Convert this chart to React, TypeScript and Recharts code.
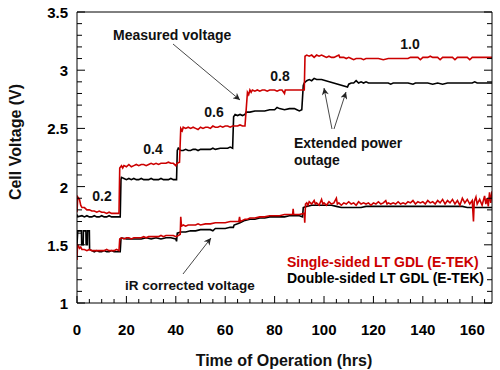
import { Line, LineChart, XAxis, YAxis } from "recharts";

type Pt = [number, number];

// time axis (hrs): a tick every 5, a label every 20
const xTicks = [0, 5, 10, 15, 20, 25, 30, 35, 40, 45, 50, 55, 60, 65, 70, 75, 80, 85, 90, 95, 100, 105, 110, 115, 120, 125, 130, 135, 140, 145, 150, 155, 160, 165];
const xLabels = [0, 20, 40, 60, 80, 100, 120, 140, 160];
// cell voltage axis (V): a tick every 0.1, a label every 0.5
const yTicks = [1, 1.1, 1.2, 1.3, 1.4, 1.5, 1.6, 1.7, 1.8, 1.9, 2, 2.1, 2.2, 2.3, 2.4, 2.5, 2.6, 2.7, 2.8, 2.9, 3, 3.1, 3.2, 3.3, 3.4, 3.5];
const yLabels = [1, 1.5, 2, 2.5, 3, 3.5];

// [hrs, V] single-sided LT GDL, measured
const singleMeasured: Pt[] = [
  [0, 1.78], [0.3, 1.91], [1, 1.89], [1.5, 1.84], [2, 1.82], [3, 1.82], [4, 1.8], [5, 1.8],
  [6, 1.79], [7, 1.79], [8, 1.78], [9, 1.79], [10, 1.78], [11, 1.78], [12, 1.77], [13, 1.78],
  [14, 1.77], [15, 1.77], [16, 1.77], [17, 1.77],
  [17.3, 2.16], [18, 2.18], [18.5, 2.16], [19, 2.18], [20, 2.17], [21, 2.19], [22, 2.17], [23, 2.18],
  [24, 2.19], [25, 2.18], [26, 2.19], [27, 2.19], [28, 2.18], [29, 2.19], [30, 2.2], [31, 2.19],
  [32, 2.2], [33, 2.19], [34, 2.2], [35, 2.2], [36, 2.2], [37, 2.21], [38, 2.2], [39, 2.2],
  [40, 2.18], [40.5, 2.2], [41.5, 2.21],
  [42, 2.5], [42.6, 2.48], [43, 2.51], [44, 2.5], [45, 2.51], [46, 2.5], [47, 2.51], [48, 2.5],
  [49, 2.49], [50, 2.51], [51, 2.5], [52, 2.51], [53, 2.51], [54, 2.5], [55, 2.52], [56, 2.51],
  [57, 2.51], [58, 2.52], [59, 2.51], [60, 2.52], [61, 2.52], [62, 2.51], [63, 2.52], [64, 2.52],
  [65, 2.52], [66, 2.53], [67, 2.52], [68, 2.52],
  [69, 2.81], [69.5, 2.79], [70, 2.83], [70.5, 2.81], [71, 2.83], [72, 2.82], [73, 2.83], [74, 2.82],
  [75, 2.83], [76, 2.83], [77, 2.82], [78, 2.83], [79, 2.83], [80, 2.83], [81, 2.82], [82, 2.83],
  [83, 2.83], [84, 2.8], [84.3, 2.83], [85, 2.83], [86, 2.83], [87, 2.83], [88, 2.83], [89, 2.83],
  [90, 2.83], [91, 2.83], [92, 2.83],
  [92.3, 3.12], [93, 3.13], [94, 3.12], [95, 3.13], [96, 3.11], [97, 3.13], [98, 3.12], [99, 3.13],
  [100, 3.12], [101, 3.11], [102, 3.12], [103, 3.11], [104, 3.11], [105, 3.12], [106, 3.13], [106.4, 3.11],
  [108, 3.11], [109, 3.1], [110, 3.11], [111, 3.1], [112, 3.09], [113, 3.1], [114, 3.1], [115, 3.1],
  [116, 3.09], [117, 3.1], [118, 3.1], [119, 3.1], [120, 3.1], [122, 3.1], [124, 3.09], [126, 3.1],
  [128, 3.1], [130, 3.1], [132, 3.1], [134, 3.1], [135, 3.11], [136, 3.11], [138, 3.11], [139, 3.09],
  [140, 3.11], [142, 3.11], [143, 3.12], [144, 3.11], [146, 3.11], [147, 3.09], [148, 3.11], [150, 3.11],
  [152, 3.11], [153, 3.09], [154, 3.11], [156, 3.11], [158, 3.11], [159, 3.09], [160, 3.11], [162, 3.11],
  [164, 3.11], [166, 3.11], [168, 3.11],
];

// [hrs, V] double-sided LT GDL, measured
const doubleMeasured: Pt[] = [
  [0, 1.76], [0.3, 1.74], [2, 1.75], [3, 1.74], [4, 1.75], [5, 1.74], [6, 1.74], [7, 1.75],
  [8, 1.74], [9, 1.74], [10, 1.75], [11, 1.74], [12, 1.74], [13, 1.75], [14, 1.74], [15, 1.74],
  [16, 1.74], [17.5, 1.74],
  [17.8, 2.06], [18, 2.08], [19, 2.07], [20, 2.06], [21, 2.07], [22, 2.06], [23, 2.07], [24, 2.06],
  [25, 2.06], [26, 2.07], [27, 2.06], [28, 2.06], [29, 2.06], [30, 2.07], [31, 2.06], [32, 2.06],
  [33, 2.06], [34, 2.07], [35, 2.06], [36, 2.06], [37, 2.06], [38, 2.07], [39, 2.06], [40.3, 2.06],
  [40.6, 2.31], [41, 2.33], [42, 2.31], [43, 2.31], [44, 2.32], [45, 2.31], [46, 2.31], [47, 2.32],
  [48, 2.32], [49, 2.31], [50, 2.32], [52, 2.32], [54, 2.32], [55, 2.33], [56, 2.32], [58, 2.33],
  [60, 2.33], [61, 2.33], [62, 2.34], [63, 2.33],
  [63.4, 2.6], [64, 2.62], [65, 2.61], [66, 2.62], [67, 2.61], [68, 2.62], [68.5, 2.64], [70, 2.64],
  [72, 2.65], [74, 2.65], [76, 2.65], [78, 2.66], [80, 2.66], [81, 2.68], [82, 2.67], [84, 2.66],
  [86, 2.67], [88, 2.67], [89, 2.66], [90, 2.65], [91, 2.66],
  [91.6, 2.87], [92, 2.89], [93, 2.91], [94, 2.92], [95, 2.91], [96, 2.93], [97, 2.92], [98, 2.92],
  [99, 2.92],
  [109.5, 2.855], [110, 2.88], [111, 2.89], [112, 2.89], [113, 2.91], [114, 2.89], [115, 2.9], [116, 2.89],
  [117, 2.9], [118, 2.89], [120, 2.89], [122, 2.89], [124, 2.89], [126, 2.89], [127, 2.88], [128, 2.89],
  [130, 2.89], [132, 2.89], [134, 2.89], [136, 2.88], [137, 2.89], [138, 2.89], [140, 2.89], [142, 2.89],
  [144, 2.88], [146, 2.89], [148, 2.88], [150, 2.89], [152, 2.89], [154, 2.89], [156, 2.89], [158, 2.89],
  [160, 2.89], [161, 2.9], [162, 2.89], [164, 2.89], [166, 2.89], [168, 2.89],
];

// [hrs, V] single-sided LT GDL, iR corrected
const singleIR: Pt[] = [
  [0, 1.37], [0.2, 1.5], [0.6, 1.49], [1, 1.47], [1.5, 1.48], [2, 1.46], [3, 1.46], [4, 1.45],
  [5, 1.46], [6, 1.45], [7, 1.45], [8, 1.45], [9, 1.45], [10, 1.45], [11, 1.45], [12, 1.46],
  [13, 1.45], [14, 1.45], [15, 1.45], [16, 1.46], [17, 1.45],
  [17.3, 1.55], [18, 1.56], [19, 1.55], [20, 1.56], [21, 1.56], [22, 1.55], [23, 1.56], [24, 1.56],
  [25, 1.56], [26, 1.56], [27, 1.57], [28, 1.56], [29, 1.57], [30, 1.57], [31, 1.57], [32, 1.57],
  [33, 1.57], [34, 1.58], [35, 1.57], [36, 1.58], [37, 1.58], [38, 1.58], [39, 1.58], [40, 1.57],
  [41, 1.58], [41.8, 1.59],
  [42, 1.74], [42.3, 1.66], [43, 1.67], [44, 1.66], [45, 1.67], [46, 1.67], [47, 1.67], [48, 1.67],
  [49, 1.68], [50, 1.67], [52, 1.68], [54, 1.68], [56, 1.69], [58, 1.69], [60, 1.69], [62, 1.7],
  [64, 1.7], [65.5, 1.7], [65.8, 1.74], [66.1, 1.7], [67, 1.71], [68, 1.72], [69, 1.72], [70, 1.73],
  [72, 1.73], [74, 1.74], [76, 1.74], [78, 1.75], [80, 1.75], [82, 1.75], [84, 1.76], [86, 1.76],
  [87.3, 1.76], [87.5, 1.81], [87.7, 1.76], [90, 1.76], [92, 1.77], [92.2, 1.69], [92.5, 1.85],
  [93, 1.86], [93.5, 1.84], [94, 1.87], [95, 1.85], [96, 1.88], [96.5, 1.85], [97, 1.86], [98, 1.84],
  [99, 1.89], [99.5, 1.85], [100, 1.86], [101, 1.84], [102, 1.87], [103, 1.85], [104, 1.86], [105, 1.9],
  [105.4, 1.85], [106, 1.86], [107, 1.84], [108, 1.86], [109, 1.85], [110, 1.87], [111, 1.85], [112, 1.86],
  [113, 1.84], [114, 1.87], [115, 1.85], [116, 1.86], [117, 1.85], [118, 1.86], [119, 1.84], [120, 1.86],
  [121, 1.85], [122, 1.87], [123, 1.85], [124, 1.86], [125, 1.88], [125.5, 1.85], [126, 1.86], [127, 1.85],
  [128, 1.86], [129, 1.85], [130, 1.87], [131, 1.85], [132, 1.86], [133, 1.85], [134, 1.87], [135, 1.86],
  [136, 1.88], [137, 1.85], [138, 1.87], [139, 1.86], [140, 1.87], [141, 1.85], [142, 1.88], [143, 1.86],
  [144, 1.87], [145, 1.85], [146, 1.88], [147, 1.86], [148, 1.89], [149, 1.85], [150, 1.88], [151, 1.86],
  [152, 1.89], [153, 1.85], [154, 1.88], [155, 1.84], [156, 1.9], [157, 1.86], [158, 1.89], [159, 1.85],
  [160, 1.88], [160.5, 1.7], [160.8, 1.87], [161.5, 1.91], [162, 1.85], [163, 1.89], [164, 1.84], [165, 1.92],
  [165.5, 1.85], [166, 1.9], [166.5, 1.83], [167, 1.95], [167.5, 1.86], [168, 1.96],
];

// [hrs, V] double-sided LT GDL, iR corrected
const doubleIR: Pt[] = [
  [0, 1.5], [0.3, 1.62], [1.8, 1.62], [1.9, 1.5], [2.5, 1.5], [2.6, 1.62], [3.6, 1.62], [3.7, 1.5],
  [4.2, 1.5], [4.3, 1.62], [5, 1.62], [5.1, 1.46], [6, 1.45], [7, 1.44], [8, 1.45], [9, 1.44],
  [10, 1.44], [11, 1.45], [12, 1.44], [13, 1.44], [14, 1.45], [15, 1.44], [16, 1.44], [17.5, 1.44],
  [17.8, 1.55], [18, 1.56], [20, 1.55], [22, 1.55], [24, 1.55], [26, 1.55], [28, 1.56], [30, 1.55],
  [32, 1.56], [34, 1.55], [36, 1.56], [38, 1.56], [40, 1.55], [40.3, 1.53],
  [40.6, 1.6], [42, 1.61], [44, 1.61], [46, 1.62], [48, 1.62], [50, 1.63], [52, 1.63], [54, 1.63],
  [55, 1.62], [56, 1.64], [58, 1.64], [60, 1.64], [62, 1.65], [63.3, 1.65], [63.6, 1.67], [65, 1.68],
  [66, 1.69], [68, 1.71], [70, 1.72], [72, 1.72], [74, 1.73], [76, 1.73], [78, 1.74], [80, 1.74],
  [82, 1.74], [84, 1.74], [86, 1.75], [88, 1.75], [90, 1.75], [91.3, 1.74],
  [91.6, 1.82], [93, 1.83], [95, 1.84], [97, 1.84], [99, 1.84], [101, 1.84], [103, 1.84], [105, 1.83],
  [107, 1.82], [109, 1.82], [111, 1.82], [113, 1.82], [115, 1.82], [117, 1.83], [120, 1.83], [123, 1.83],
  [126, 1.83], [129, 1.83], [132, 1.83], [135, 1.83], [138, 1.83], [141, 1.83], [144, 1.83], [147, 1.83],
  [150, 1.83], [153, 1.83], [156, 1.83], [158, 1.82], [160, 1.82], [162, 1.82], [164, 1.82], [166, 1.82],
  [168, 1.82],
];

const RED = "#cc0000";
const FONT = "'Liberation Sans', Arial, sans-serif";

const toRows = (pts: Pt[]) => pts.map(([t, v]) => ({ t, v }));

const isYMajor = (v: number) => yLabels.some((l) => Math.abs(l - v) < 1e-6);

function BottomTick({ x, y, payload }: any) {
  const major = xLabels.includes(payload.value);
  return (
    <g>
      <line x1={x} y1={y} x2={x} y2={y - (major ? 7 : 4)} stroke="#000" />
      {major && (
        <text x={x} y={y + 32} textAnchor="middle" fontSize={15} fontWeight="bold" fontFamily={FONT} fill="#000">
          {payload.value}
        </text>
      )}
    </g>
  );
}

function TopTick({ x, y, payload }: any) {
  const major = xLabels.includes(payload.value);
  return <line x1={x} y1={y} x2={x} y2={y + (major ? 7 : 4)} stroke="#000" />;
}

function LeftTick({ x, y, payload }: any) {
  const major = isYMajor(payload.value);
  return (
    <g>
      <line x1={x} y1={y} x2={x + (major ? 8 : 5)} y2={y} stroke="#000" />
      {major && (
        <text x={x - 9} y={y + 6} textAnchor="end" fontSize={15} fontWeight="bold" fontFamily={FONT} fill="#000">
          {payload.value}
        </text>
      )}
    </g>
  );
}

function RightTick({ x, y, payload }: any) {
  const major = isYMajor(payload.value);
  return <line x1={x} y1={y} x2={x - (major ? 8 : 5)} y2={y} stroke="#000" />;
}

function Annotations() {
  const txt = { fontFamily: FONT, fontWeight: "bold" as const, fill: "#111" };
  return (
    <svg width={500} height={370} style={{ position: "absolute", left: 0, top: 0, pointerEvents: "none" }}>
      <defs>
        <marker id="head" viewBox="0 0 10 10" refX="10" refY="5" markerWidth="9" markerHeight="7" orient="auto" markerUnits="userSpaceOnUse">
          <path d="M0,0 L10,5 L0,10 L3,5 z" fill="#222" />
        </marker>
      </defs>
      <text x={15} y={142} transform="rotate(-90 15 142)" textAnchor="middle" dominantBaseline="central" fontSize={16} {...txt}>
        Cell Voltage (V)
      </text>
      <text x={284} y={366} textAnchor="middle" fontSize={16} {...txt}>
        Time of Operation (hrs)
      </text>

      <text x={113} y={40} fontSize={14} {...txt}>Measured voltage</text>
      <line x1={173} y1={44} x2={240} y2={100} stroke="#333" strokeWidth={0.9} markerEnd="url(#head)" />

      <text x={102} y={201} textAnchor="middle" fontSize={14} {...txt}>0.2</text>
      <text x={153} y={154} textAnchor="middle" fontSize={14} {...txt}>0.4</text>
      <text x={214} y={117} textAnchor="middle" fontSize={14} {...txt}>0.6</text>
      <text x={280} y={81} textAnchor="middle" fontSize={14} {...txt}>0.8</text>
      <text x={410} y={49} textAnchor="middle" fontSize={14} {...txt}>1.0</text>

      <line x1={332} y1={129} x2={324} y2={88} stroke="#333" strokeWidth={0.9} markerEnd="url(#head)" />
      <line x1={334} y1={129} x2={346} y2={92} stroke="#333" strokeWidth={0.9} markerEnd="url(#head)" />
      <text x={294} y={148} fontSize={14} {...txt}>Extended power</text>
      <text x={294} y={165} fontSize={14} {...txt}>outage</text>

      <text x={125} y={290} fontSize={13.5} {...txt}>iR corrected voltage</text>
      <line x1={183} y1={274} x2={211} y2={238} stroke="#333" strokeWidth={0.9} markerEnd="url(#head)" />

      <text x={287} y={267} fontSize={14} fontFamily={FONT} fontWeight="bold" fill={RED}>Single-sided LT GDL (E-TEK)</text>
      <text x={287} y={283} fontSize={14} fontFamily={FONT} fontWeight="bold" fill="#000">Double-sided LT GDL (E-TEK)</text>
    </svg>
  );
}

export default function App() {
  return (
    <div style={{ position: "absolute", left: 0, top: 0, width: 500, height: 370, background: "#fff" }}>
      <LineChart width={500} height={370} margin={{ top: 0, right: 0, bottom: 0, left: 7 }}>
        <XAxis
          dataKey="t"
          type="number"
          domain={[0, 168]}
          ticks={xTicks}
          interval={0}
          tickSize={0}
          tickMargin={0}
          tickLine={false}
          tick={(p: any) => <BottomTick {...p} />}
          height={67}
          axisLine={{ stroke: "#000" }}
          allowDataOverflow
        />
        <XAxis
          xAxisId="top"
          orientation="top"
          type="number"
          domain={[0, 168]}
          ticks={xTicks}
          interval={0}
          tickSize={0}
          tickMargin={0}
          tickLine={false}
          tick={(p: any) => <TopTick {...p} />}
          height={12}
          axisLine={{ stroke: "#000" }}
          allowDataOverflow
        />
        <YAxis
          type="number"
          domain={[1, 3.5]}
          ticks={yTicks}
          interval={0}
          tickSize={0}
          tickMargin={0}
          tickLine={false}
          tick={(p: any) => <LeftTick {...p} />}
          width={70}
          axisLine={{ stroke: "#000" }}
          allowDataOverflow
        />
        <YAxis
          yAxisId="right"
          orientation="right"
          type="number"
          domain={[1, 3.5]}
          ticks={yTicks}
          interval={0}
          tickSize={0}
          tickMargin={0}
          tickLine={false}
          tick={(p: any) => <RightTick {...p} />}
          width={8}
          axisLine={{ stroke: "#000" }}
          allowDataOverflow
        />
        <Line data={toRows(doubleMeasured)} dataKey="v" stroke="#000" strokeWidth={1.6} dot={false} isAnimationActive={false} />
        <Line data={toRows(doubleIR)} dataKey="v" stroke="#000" strokeWidth={1.6} dot={false} isAnimationActive={false} />
        <Line data={toRows(singleMeasured)} dataKey="v" stroke={RED} strokeWidth={1.6} dot={false} isAnimationActive={false} />
        <Line data={toRows(singleIR)} dataKey="v" stroke={RED} strokeWidth={1.6} dot={false} isAnimationActive={false} />
      </LineChart>
      <Annotations />
    </div>
  );
}
